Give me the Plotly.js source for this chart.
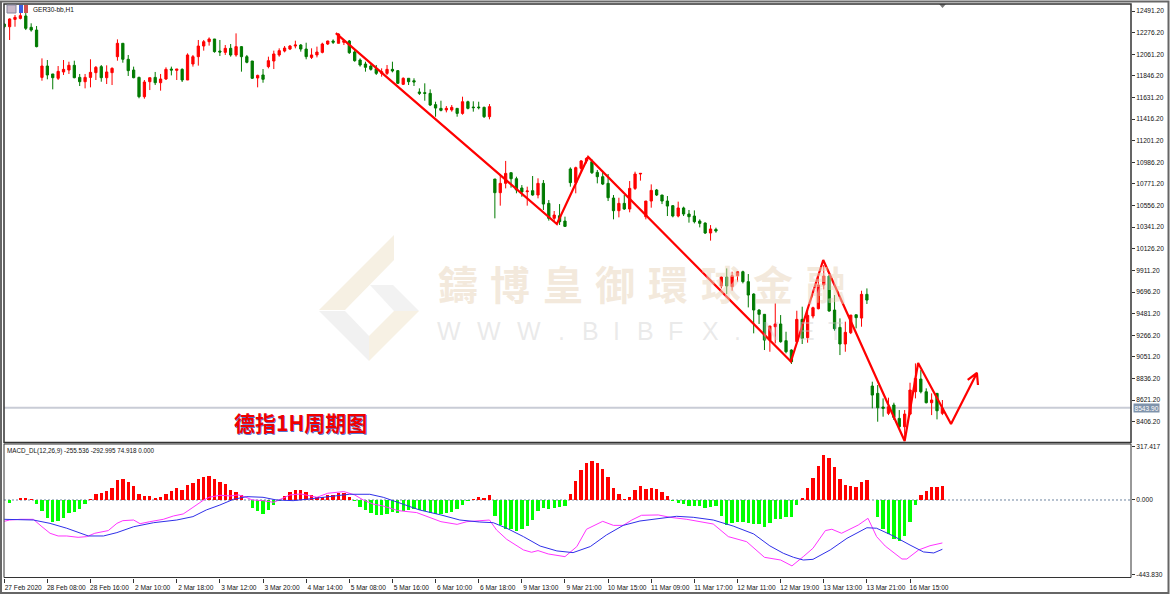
<!DOCTYPE html>
<html>
<head>
<meta charset="utf-8">
<script src="https://cdn.plot.ly/plotly-3.0.1.min.js"></script>
<style>
  html, body { margin: 0; padding: 0; background: #fff; }
  #chart { width: 1170px; height: 595px; }
</style>
</head>
<body>
<div id="chart"></div>
<script>
// GER30 H1 candles, one entry per bar
const opens = [
  12362,12335,12408,12418,12442,12329,12302,11831,11944,11865,
  11822,11885,11904,11951,11831,11788,11831,11878,11938,11828,
  11878,12037,12170,12011,11904,11831,11639,11788,11831,11778,
  11815,11914,11901,11911,11805,11964,12037,12143,12186,12213,
  12093,12080,12120,12054,12137,12037,11994,11825,11855,11938,
  11994,12054,12093,12113,12143,12153,12113,12030,12054,12080,
  12163,12193,12170,12180,12193,12084,12004,11964,11944,11918,
  11871,11871,11911,11898,11762,11822,11798,11686,11679,11672,
  11560,11523,11507,11507,11523,11473,11589,11536,11536,11533,
  11440,10820,10684,10777,10883,10823,10731,10694,10704,10661,
  10777,10578,10429,10455,10402,10920,10784,10926,11000,10993,
  10886,10843,10777,10631,10505,10578,10522,10727,10870,10445,
  10601,10711,10661,10601,10555,10452,10532,10472,10452,10402,
  10382,10283,10319,9756,9845,9749,9858,9898,9799,9676,
  9517,9474,9218,9351,9378,9212,9119,9202,9424,9242,
  9457,9530,9766,9855,9517,9344,9179,9291,9470,9437,
  9673,8761,8688,8552,8489,8572,8439,8356,8482,8704,
  8830,8704,8595,8688,8489
];
const highs = [
  12369,12418,12452,12551,12501,12369,12342,12020,12004,11865,
  11944,12004,11987,11997,11865,11865,12011,11944,11954,11951,
  11931,12209,12170,12054,11938,11838,11805,11828,11885,11865,
  11931,11938,11914,11921,12070,12054,12203,12203,12229,12213,
  12203,12153,12163,12269,12143,12054,11994,11858,11914,12037,
  12097,12120,12143,12153,12196,12163,12176,12120,12137,12176,
  12196,12209,12269,12203,12203,12103,12020,11987,11971,11954,
  11921,11954,11987,11904,11831,11822,11822,11722,11772,11712,
  11589,11599,11546,11556,11523,11639,11599,11593,11589,11540,
  11566,10820,10870,11000,10883,10843,10760,10744,10850,10827,
  10810,10611,10502,10571,10446,10936,10943,11009,11036,11016,
  10910,10893,10870,10661,10634,10661,10800,10893,10876,10601,
  10767,10721,10661,10651,10561,10595,10545,10512,10508,10419,
  10389,10362,10336,9855,9931,9898,9898,9908,9875,9683,
  9524,9474,9358,9583,9467,9301,9126,9510,9550,9517,
  9550,9865,9965,9865,9666,9434,9401,9467,9470,9709,
  9732,8804,8771,8638,8645,8595,8522,8522,8794,8986,
  8920,8738,8688,8688,8622
];
const lows = [
  12319,12203,12335,12408,12302,12286,12130,11798,11812,11712,
  11805,11855,11865,11822,11745,11722,11732,11805,11788,11765,
  11755,11997,11977,11845,11822,11623,11619,11705,11755,11699,
  11805,11851,11805,11785,11805,11938,11948,12097,12147,12077,
  12044,12054,12037,12037,11888,11971,11815,11732,11778,11921,
  11914,12037,12080,12103,12120,12087,12011,12014,12030,12070,
  12153,12163,12170,12153,12064,11987,11938,11888,11898,11855,
  11838,11855,11881,11765,11755,11755,11745,11656,11599,11546,
  11440,11493,11483,11490,11440,11460,11513,11490,11513,11427,
  11414,10429,10555,10727,10734,10678,10644,10555,10654,10628,
  10512,10406,10396,10363,10346,10744,10678,10893,10976,10870,
  10777,10760,10601,10419,10439,10512,10489,10711,10804,10419,
  10535,10651,10571,10452,10439,10439,10452,10386,10379,10339,
  10273,10207,10286,9732,9676,9709,9799,9782,9543,9285,
  9378,9119,9102,9185,9192,9086,8980,9202,9179,9192,
  9434,9524,9722,9500,9311,9069,9102,9278,9335,9351,
  9577,8539,8406,8456,8472,8423,8340,8240,8472,8638,
  8688,8588,8472,8429,8472
];
const closes = [
  12335,12412,12428,12445,12319,12302,12137,11944,11855,11828,
  11891,11911,11951,11828,11788,11831,11881,11931,11828,11885,
  11921,12170,12011,11898,11828,11639,11785,11828,11778,11815,
  11911,11904,11914,11805,12054,12037,12143,12186,12213,12087,
  12083,12120,12054,12137,12037,11981,11822,11851,11812,11997,
  12064,12097,12123,12143,12153,12113,12037,12054,12083,12163,
  12193,12180,12262,12196,12077,11997,11954,11931,11911,11871,
  11888,11911,11895,11772,11822,11788,11785,11672,11672,11556,
  11526,11503,11523,11533,11473,11589,11523,11530,11530,11440,
  11540,10684,10777,10876,10823,10711,10691,10701,10661,10777,
  10571,10429,10462,10396,10349,10784,10933,11000,11026,10883,
  10843,10770,10634,10505,10578,10522,10727,10870,10876,10601,
  10707,10661,10601,10551,10452,10532,10472,10445,10396,10379,
  10283,10323,10303,9845,9756,9858,9898,9799,9666,9517,
  9474,9218,9358,9378,9202,9102,9003,9424,9235,9464,
  9540,9766,9855,9507,9331,9179,9295,9467,9441,9673,
  9616,8671,8545,8539,8555,8449,8356,8482,8721,8837,
  8704,8595,8622,8515,8539
];

// MACD histogram, one entry per bar
const macdHist = [
  0,-16,2,12,10,6,-24,-63,-105,-129,
  -125,-109,-79,-69,-55,-24,8,34,44,54,
  69,119,125,109,83,34,24,24,14,18,
  36,54,69,59,89,101,125,139,145,125,
  105,93,59,48,28,2,-46,-65,-81,-59,
  -30,-4,24,46,59,59,48,30,16,20,
  30,30,42,40,20,-6,-40,-59,-75,-91,
  -91,-83,-69,-75,-63,-59,-55,-59,-63,-75,
  -83,-83,-79,-69,-55,-30,-8,6,18,10,
  30,-93,-149,-170,-174,-182,-174,-155,-119,-65,
  -50,-55,-46,-40,-36,36,113,178,218,230,
  218,184,139,69,36,6,18,59,83,65,
  69,65,48,24,-4,-16,-26,-34,-34,-34,
  -46,-42,-34,-95,-151,-135,-131,-131,-139,-143,
  -143,-159,-139,-113,-111,-103,-103,-30,10,71,
  129,204,266,250,198,123,91,83,75,105,
  119,-2,-103,-174,-202,-232,-242,-214,-129,-30,
  30,55,79,77,81
];

// MACD and signal lines read at the turning points of each curve
const macdBars = [0,1,3,5.4,7,8.5,10,11.6,13.7,15.3,16.8,19.3,20.9,22,24,25.2,27,29.5,31.4,33.2,35,37,38,40,41.9,43.4,44.6,46,48,50,53,55,58,60,63,65,66.6,68.4,70.3,73,76.5,79,81,84,85.8,90,91.3,93.2,96.3,97.8,99,100.9,104,106.2,108,111,113,114.8,116.4,118.2,121.3,123.5,126.6,131.5,134.3,137.7,141,144,146.1,148.2,150,152.3,153.5,155.3,158.4,160.2,161.8,163.4,166.5,167.4,169.6,171.7,174];
const macdLine = [-127,-119,-115,-115,-159,-198,-214,-214,-222,-218,-198,-182,-139,-123,-119,-141,-129,-115,-95,-83,-44,0,16,28,24,30,20,0,-4,-14,30,36,16,40,50,30,0,-24,-36,-63,-75,-103,-129,-145,-129,-119,-178,-234,-297,-311,-301,-321,-337,-277,-174,-127,-151,-151,-119,-91,-89,-103,-115,-143,-218,-248,-341,-357,-392,-337,-287,-182,-174,-198,-149,-109,-218,-274,-351,-351,-297,-272,-255.5];
const signalBars = [0,5.4,8.5,11.6,15.6,18.4,20.9,24,27.7,32,35,37.5,40,42.5,45,48,50.5,53.6,56,61,64,67.8,70.3,73,77,81,84.5,88.2,90.7,93.2,96.3,99.4,102.5,105.5,108.7,111.7,114.8,117.9,121,124.7,127.8,131.5,135.2,139,142,144.5,146.4,148.2,150,153.2,156.3,160,161.8,164.9,168,170.5,172.4,174];
const signalLine = [-115,-119,-139,-168,-214,-214,-194,-159,-135,-119,-99,-59,-30,4,20,16,0,-4,4,20,34,34,16,-14,-59,-89,-119,-131,-135,-168,-218,-274,-303,-313,-277,-208,-151,-125,-113,-97,-103,-119,-155,-202,-273,-317,-341,-357,-353,-297,-228,-165,-168,-214,-268,-309,-315,-293];

// hand-drawn red zigzag with arrow head
const zigzagBars = [61.5,102.5,108.3,145.9,151.9,167,169.5,175.6,180.4,178.7,180.4,180.6];
const zigzagPrices = [12272,10373,11039,9005,10015,8214,8990,8383,8891,8821,8891,8771];

const xTickBars = [0,8,16,24,32,40,48,56,64,72,80,88,96,104,112,120,128,136,144,152,160,168];
const xTickLabels = ['27 Feb 2020','28 Feb 08:00','28 Feb 16:00','2 Mar 10:00','2 Mar 18:00','3 Mar 12:00','3 Mar 20:00','4 Mar 14:00','5 Mar 08:00','5 Mar 16:00','6 Mar 10:00','6 Mar 18:00','9 Mar 13:00','9 Mar 21:00','10 Mar 15:00','11 Mar 09:00','11 Mar 17:00','12 Mar 11:00','12 Mar 19:00','13 Mar 13:00','13 Mar 21:00','16 Mar 15:00'];
const priceTicks = [8406.2,8621.2,8836.2,9051.2,9266.2,9481.2,9696.2,9911.2,10126.2,10341.2,10556.2,10771.2,10986.2,11201.2,11416.2,11631.2,11846.2,12061.2,12276.2,12491.2];
const macdTicks = [317.417,0,-443.83];
const macdTickLabels = ['317.417','0.000','-443.830'];
const lastPrice = 8543.9;

const smallFont = {family: '"Liberation Sans", Arial, sans-serif', size: 6.6, color: '#111'};
const barIndex = opens.map((v, i) => i);

// pixel helpers for the furniture around the chart (margins are 0)
const px = x => x / 1170;
const py = y => 1 - y / 595;
function poly(points, color) {
  const path = points.map((p, i) => (i ? 'L' : 'M') + px(p[0]) + ',' + py(p[1])).join(' ') + ' Z';
  return {type: 'path', xref: 'paper', yref: 'paper', path: path, fillcolor: color, line: {width: 0}, layer: 'below'};
}
function frame(x0, y0, x1, y1, color, w) {
  return {type: 'rect', xref: 'paper', yref: 'paper', x0: px(x0), y0: py(y0), x1: px(x1), y1: py(y1),
    line: {color: color, width: w}, layer: 'above'};
}

const traces = [
  {
    type: 'candlestick', x: barIndex, open: opens, high: highs, low: lows, close: closes,
    xaxis: 'x', yaxis: 'y', whiskerwidth: 0, hoverinfo: 'skip',
    increasing: {line: {color: '#ff0000', width: 1}, fillcolor: '#ff0000'},
    decreasing: {line: {color: '#007a00', width: 1}, fillcolor: '#007a00'}
  },
  {
    type: 'scatter', mode: 'lines', x: zigzagBars, y: zigzagPrices, xaxis: 'x', yaxis: 'y',
    line: {color: '#ff0000', width: 2.2}, hoverinfo: 'skip'
  },
  {
    type: 'bar', x: barIndex, y: macdHist, xaxis: 'x', yaxis: 'y2', width: 0.62,
    marker: {color: macdHist.map(v => v >= 0 ? '#ff0000' : '#00ff00'), line: {width: 0}}, hoverinfo: 'skip'
  },
  {
    type: 'scatter', mode: 'lines', x: macdBars, y: macdLine, xaxis: 'x', yaxis: 'y2',
    line: {color: '#ff33ff', width: 1}, hoverinfo: 'skip'
  },
  {
    type: 'scatter', mode: 'lines', x: signalBars, y: signalLine, xaxis: 'x', yaxis: 'y2',
    line: {color: '#2f2fe8', width: 1}, hoverinfo: 'skip'
  }
];

// watermark, beige characters and grey url
const wmBeige = 'rgba(232,212,185,0.5)';
const wmGrey = 'rgba(205,205,205,0.42)';
const wmAnn = [];
'鑄博皇御環球金融'.split('').forEach((c, i) => {
  wmAnn.push({xref: 'paper', yref: 'paper', x: px(457.5 + i * 52.6), y: py(283), text: '<b>' + c + '</b>', showarrow: false,
    xanchor: 'center', yanchor: 'middle', font: {family: '"Noto Sans CJK TC"', size: 40, color: wmBeige}});
});
[['W',449],['W',489],['W',529],['.',561],['B',590],['I',616],['B',645],['F',676],['X',710],['.',737],['N',771],['E',806],['T',835]].forEach(p => {
  wmAnn.push({xref: 'paper', yref: 'paper', x: px(p[1]), y: py(331), text: p[0], showarrow: false,
    xanchor: 'center', yanchor: 'middle', font: {family: '"Liberation Sans"', size: 25, color: wmGrey}});
});

const layout = {
  width: 1170, height: 595,
  margin: {l: 0, r: 0, t: 0, b: 0, pad: 0},
  paper_bgcolor: '#ffffff', plot_bgcolor: 'rgba(0,0,0,0)',
  showlegend: false, boxgap: 0.4, bargap: 0,
  xaxis: {
    domain: [px(4), px(1131)], range: [-0.04, 208.98], anchor: 'y2',
    rangeslider: {visible: false}, showgrid: false, zeroline: false,
    tickmode: 'array', tickvals: xTickBars, ticktext: xTickLabels,
    ticks: 'outside', ticklen: 4, tickwidth: 1, tickcolor: '#333',
    tickfont: smallFont, ticklabelshift: 19, tickangle: 0
  },
  yaxis: {
    domain: [py(442), py(4)], range: [8204.2, 12561], anchor: 'x', side: 'right',
    showgrid: false, zeroline: false,
    tickmode: 'array', tickvals: priceTicks, ticktext: priceTicks.map(v => v.toFixed(2)),
    ticks: 'outside', ticklen: 3, tickwidth: 1, tickcolor: '#333', tickfont: smallFont
  },
  yaxis2: {
    domain: [py(577.5), py(444)], range: [-461, 333], anchor: 'x', side: 'right',
    showgrid: false, zeroline: false,
    tickmode: 'array', tickvals: macdTicks, ticktext: macdTickLabels,
    ticks: 'outside', ticklen: 3, tickwidth: 1, tickcolor: '#333', tickfont: smallFont
  },
  shapes: [
    // logo watermark
    poly([[394,235],[394,260],[345,310],[319,310]], '#f6f0e3'),
    poly([[370,285],[393,285],[419,311],[394,311]], '#f2f2f2'),
    poly([[319,311],[345,311],[369,336],[369,361]], '#f1f1f1'),
    poly([[394,311],[419,311],[369,361],[369,336]], '#f7f1e4'),
    // last price and zero line
    {type: 'line', xref: 'x domain', yref: 'y', x0: 0, x1: 1, y0: lastPrice, y1: lastPrice, line: {color: '#c9ccd6', width: 2}, layer: 'below'},
    {type: 'line', xref: 'x domain', yref: 'y2', x0: 0, x1: 1, y0: 0, y1: 0, line: {color: '#6d84a0', width: 1, dash: '2px,2px'}, layer: 'below'},
    // pane frames and window edge
    frame(4, 4, 1131, 442.5, '#333333', 1.5),
    frame(4, 444, 1131, 577.5, '#333333', 1),
    frame(1, 1.5, 1168.5, 593, '#666666', 2),
    // toolbar icons and chart shift marker
    {type: 'rect', xref: 'paper', yref: 'paper', x0: px(7), x1: px(16), y0: py(13), y1: py(5), fillcolor: '#c8b8c8', line: {color: '#8888a0', width: 1}},
    {type: 'rect', xref: 'paper', yref: 'paper', x0: px(19), x1: px(23), y0: py(13), y1: py(5), fillcolor: '#3a5fe0', line: {width: 0}},
    {type: 'rect', xref: 'paper', yref: 'paper', x0: px(24), x1: px(28), y0: py(13), y1: py(5), fillcolor: '#d05050', line: {width: 0}},
    poly([[939,4],[946,4],[942.5,8]], '#777777')
  ],
  annotations: wmAnn.concat([
    {xref: 'paper', yref: 'paper', x: px(30.5), y: py(9.5), text: 'GER30-bb,H1', showarrow: false,
      xanchor: 'left', yanchor: 'middle', font: {family: smallFont.family, size: 6.5, color: '#111'}},
    {xref: 'paper', yref: 'paper', x: px(4.5), y: py(450.5), text: 'MACD_DL(12,26,9) -255.536 -292.995 74.918 0.000', showarrow: false,
      xanchor: 'left', yanchor: 'middle', font: {family: smallFont.family, size: 6.3, color: '#111'}},
    {xref: 'paper', yref: 'paper', x: px(301), y: py(422), text: '<b>德指1H周期图</b>', showarrow: false,
      xanchor: 'center', yanchor: 'middle',
      font: {family: '"Noto Sans CJK SC"', size: 21, color: '#f00000', shadow: '0.6px 0.6px 0 #5570d0'}},
    {xref: 'paper', yref: 'y', x: px(1133), y: lastPrice, text: lastPrice.toFixed(2), showarrow: false,
      xanchor: 'left', yanchor: 'middle', bgcolor: '#7f93ab', borderpad: 0.5,
      font: {family: smallFont.family, size: 6.6, color: '#ffffff'}}
  ])
};

Plotly.newPlot('chart', traces, layout, {staticPlot: true, displayModeBar: false});
</script>
</body>
</html>
